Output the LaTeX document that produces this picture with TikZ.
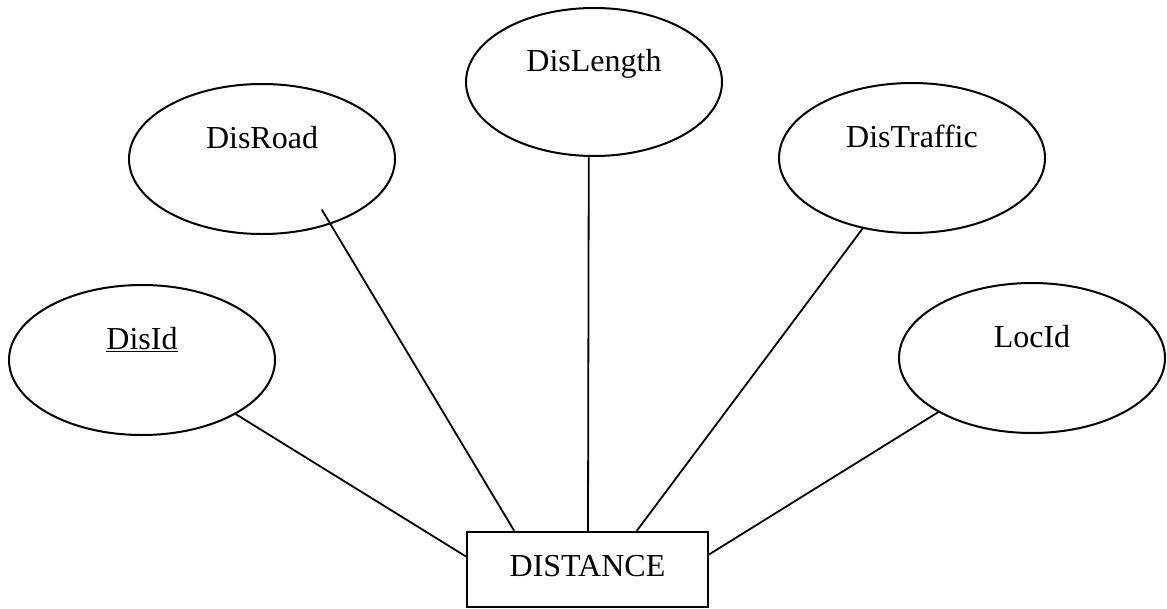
\documentclass[tikz,border=0pt]{standalone}
\usepackage{fontspec}
\setmainfont{Liberation Serif}
\usetikzlibrary{shapes.geometric,calc}

\tikzset{
  attr/.style={draw, ellipse, line width=2pt, minimum width=266pt,
    minimum height=150pt, inner sep=0pt},
  attrlabel/.style={font=\fontsize{32}{36}\selectfont, text height=22pt,
    text depth=7pt, inner sep=0pt, yshift=18.5pt},
  entity/.style={draw, rectangle, line width=2pt, minimum width=241pt,
    minimum height=75pt, inner sep=0pt, font=\fontsize{32}{36}\selectfont,
    text height=22pt, text depth=7pt},
  link/.style={line width=1.8pt, line cap=round}
}

\begin{document}
\begin{tikzpicture}[x=1pt, y=1pt]
  \useasboundingbox (0,0) rectangle (1167,-608);

  % entity
  \node[entity] (box) at (587.5,-569) {DISTANCE};

  % attributes
  \node[attr, label={[attrlabel, name=di-t]center:\underline{DisId}}] (di) at (142,-360) {};
  \node[attr, label={[attrlabel, name=rd-t]center:DisRoad}] (rd) at (262,-159) {};
  \node[attr, minimum width=256pt, minimum height=148pt,
        label={[attrlabel, name=dl-t]center:DisLength}] (dl) at (594,-82) {};
  \node[attr, label={[attrlabel, name=dt-t]center:DisTraffic}] (dt) at (912,-158) {};
  \node[attr, label={[attrlabel, name=lc-t]center:LocId}] (lc) at (1032,-358) {};

  % the DisRoad connector starts just inside its ellipse
  \coordinate (rdfoot) at ($(rd.center)+(60,-51)$);

  % connectors
  \draw[link] (di.-30) -- ($(box.west)+(0,12.5)$);
  \draw[link] (rdfoot) -- ($(box.north west)+(48,0)$);
  \draw[link] (dl.-94) -- ($(box.north)+(0.5,0)$);
  \draw[link] (dt.-125) -- ($(box.north west)+(171,0)$);
  \draw[link] (lc.-150) -- ($(box.east)+(0,14.5)$);
\end{tikzpicture}
\end{document}
